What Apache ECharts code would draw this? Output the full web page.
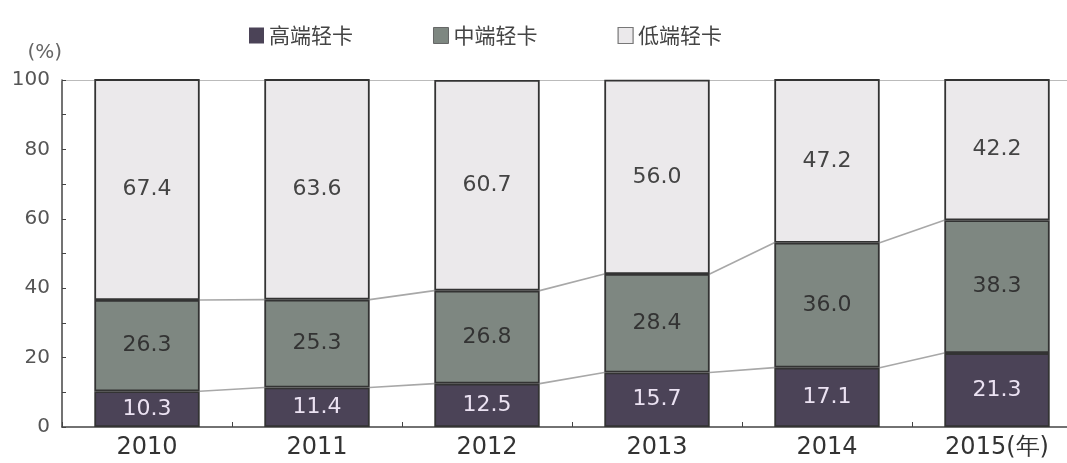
<!DOCTYPE html>
<html>
<head>
<meta charset="utf-8">
<script src="https://cdn.jsdelivr.net/npm/echarts@6/dist/echarts.min.js"></script>
<style>html,body{margin:0;padding:0;background:#fff;}#c{width:1067px;height:463px;}</style>
</head>
<body>
<div id="c"></div>
<script>
var categories = ['2010', '2011', '2012', '2013', '2014', '2015(年)'];
var seriesNames = ['高端轻卡', '中端轻卡', '低端轻卡'];
var highEnd = [10.3, 11.4, 12.5, 15.7, 17.1, 21.3];
var midEnd = [26.3, 25.3, 26.8, 28.4, 36.0, 38.3];
var lowEnd = [67.4, 63.6, 60.7, 56.0, 47.2, 42.2];
var yTicks = [0, 20, 40, 60, 80, 100];

var FONT = 'DejaVu Sans, sans-serif';
var CJK = 'Noto Sans CJK SC, sans-serif';
var BAR_FRAC = 0.62;

// cumulative tops for connector lines
var cum1 = highEnd.slice();
var cum2 = highEnd.map(function (v, i) { return +(v + midEnd[i]).toFixed(1); });
function connectorData(cum) {
  var d = [];
  for (var i = 0; i < cum.length - 1; i++) d.push([i, cum[i], cum[i + 1]]);
  return d;
}
function renderConnector(params, api) {
  var i = api.value(0);
  var p0 = api.coord([i, api.value(1)]);
  var p1 = api.coord([i + 1, api.value(2)]);
  var half = api.size([1, 0])[0] * BAR_FRAC / 2;
  return {
    type: 'line',
    shape: { x1: p0[0] + half, y1: p0[1], x2: p1[0] - half, y2: p1[1] },
    style: { stroke: '#a8a8a8', lineWidth: 1.6 }
  };
}
function fmt1(p) { return Number(p.value).toFixed(1); }

var chart = echarts.init(document.getElementById('c'));
var labelBase = { show: true, position: 'inside', fontSize: 22, fontFamily: FONT, formatter: fmt1 };
var itemBase = { borderColor: '#333', borderWidth: 1.8 };
chart.setOption({
  animation: false,
  backgroundColor: '#fff',
  legend: {
    top: 20, left: 244,
    icon: 'rect',
    itemWidth: 15, itemHeight: 16, itemGap: 80,
    textStyle: { fontFamily: CJK, fontSize: 21, color: '#444' },
    data: [
      { name: seriesNames[0], itemStyle: { borderWidth: 0 } },
      { name: seriesNames[1], itemStyle: { borderWidth: 1, borderColor: '#666' } },
      { name: seriesNames[2], itemStyle: { borderWidth: 1.2, borderColor: '#777' } }
    ]
  },
  grid: { left: 62, width: 1020, top: 80, bottom: 36, outerBoundsMode: 'none', containLabel: false },
  xAxis: [{
    type: 'category', data: categories,
    axisLine: { lineStyle: { color: '#444', width: 1.5 } },
    axisTick: { show: true, inside: true, length: 5, lineStyle: { color: '#444' } },
    axisLabel: { fontSize: 24, color: '#333', fontFamily: FONT, margin: 9 }
  }, {
    type: 'category', data: categories, position: 'top',
    axisLine: { lineStyle: { color: '#bbb', width: 1.2 } },
    axisTick: { show: false }, axisLabel: { show: false }
  }],
  yAxis: {
    type: 'value', min: yTicks[0], max: yTicks[yTicks.length - 1], interval: 20,
    name: '(%)', nameLocation: 'end', nameGap: 17,
    nameTextStyle: { fontSize: 20, color: '#666', fontFamily: FONT, align: 'right', padding: [0, 0, 0, 0] },
    axisLine: { show: true, lineStyle: { color: '#444', width: 1.5 } },
    axisTick: { show: true, inside: true, length: 4, lineStyle: { color: '#444' } },
    minorTick: { show: true, splitNumber: 2, length: 4, lineStyle: { color: '#444' } },
    splitLine: { show: false },
    axisLabel: { fontSize: 20, color: '#555', fontFamily: FONT, margin: 12 }
  },
  series: [{
    name: seriesNames[0], type: 'bar', stack: 's', barWidth: (BAR_FRAC * 100) + '%', z: 3,
    data: highEnd,
    itemStyle: Object.assign({ color: '#4b4357' }, itemBase),
    label: Object.assign({ color: '#ebe2f2' }, labelBase)
  }, {
    name: seriesNames[1], type: 'bar', stack: 's', z: 3,
    data: midEnd,
    itemStyle: Object.assign({ color: '#7e8781' }, itemBase),
    label: Object.assign({ color: '#333' }, labelBase)
  }, {
    name: seriesNames[2], type: 'bar', stack: 's', z: 3, clip: true,
    data: lowEnd,
    itemStyle: Object.assign({ color: '#ebe9eb' }, itemBase),
    label: Object.assign({ color: '#444' }, labelBase)
  }, {
    type: 'custom', z: 1, silent: true, data: connectorData(cum1), renderItem: renderConnector
  }, {
    type: 'custom', z: 1, silent: true, data: connectorData(cum2), renderItem: renderConnector
  }]
});
</script>
</body>
</html>
